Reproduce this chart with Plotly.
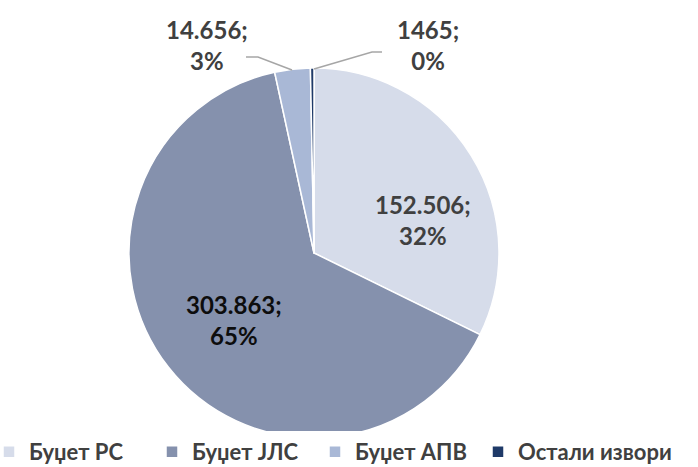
import plotly.graph_objects as go

categories = ["Буџет РС", "Буџет ЈЛС", "Буџет АПВ", "Остали извори"]
values = [152506, 303863, 14656, 1465]
value_labels = ["152.506", "303.863", "14.656", "1465"]
percent_labels = ["32%", "65%", "3%", "0%"]
colors = ["#D6DCEA", "#8591AD", "#A9B8D6", "#1F3A68"]
label_colors = ["#404040", "#0D0D0D", "#404040", "#404040"]
# label centres (px from left, px from top)
label_pos = [(423, 220), (234, 320), (207, 45), (428, 45)]

FONT = "Lato"
W, H = 698, 467

fig = go.Figure(go.Pie(
    labels=categories,
    values=values,
    textinfo="none",
    sort=False,
    direction="clockwise",
    rotation=0,
    marker=dict(colors=colors, line=dict(color="white", width=1.5)),
    domain=dict(x=[129/W, 499/W], y=[(H-438)/H, (H-68)/H]),
    hoverinfo="label+value+percent",
))

for v, p, c, (px, py) in zip(value_labels, percent_labels, label_colors, label_pos):
    fig.add_annotation(x=px/W, y=1-py/H, xref="paper", yref="paper",
                       xanchor="center", yanchor="middle",
                       text=f"{v};<br>{p}", showarrow=False, align="center",
                       font=dict(family=FONT, size=24, color=c, weight="bold"))

line = dict(color="#A6A6A6", width=1.5)
fig.add_shape(type="path", xref="paper", yref="paper",
              path=f"M {246/W} {1-57/H} L {258/W} {1-57/H} L {292/W} {1-70/H}", line=line)
fig.add_shape(type="path", xref="paper", yref="paper",
              path=f"M {314/W} {1-69/H} L {372/W} {1-52/H} L {382/W} {1-52/H}", line=line)

fig.update_layout(
    width=W, height=H,
    margin=dict(l=0, r=0, t=0, b=0, autoexpand=False),
    paper_bgcolor="white",
    showlegend=True,
    legend=dict(orientation="h", x=-11/W, xanchor="left", y=-6/H, yanchor="bottom",
                font=dict(family=FONT, size=22, color="#404040", weight="bold"),
                traceorder="normal", itemwidth=30, entrywidth=118),
)

fig.write_html("out.html", config={"displayModeBar": False},
               post_script=("document.body.style.margin='0';document.body.style.overflow='hidden';"
                            "document.querySelectorAll('.legend .scrollbox').forEach(function(e){e.removeAttribute('clip-path');});"))
